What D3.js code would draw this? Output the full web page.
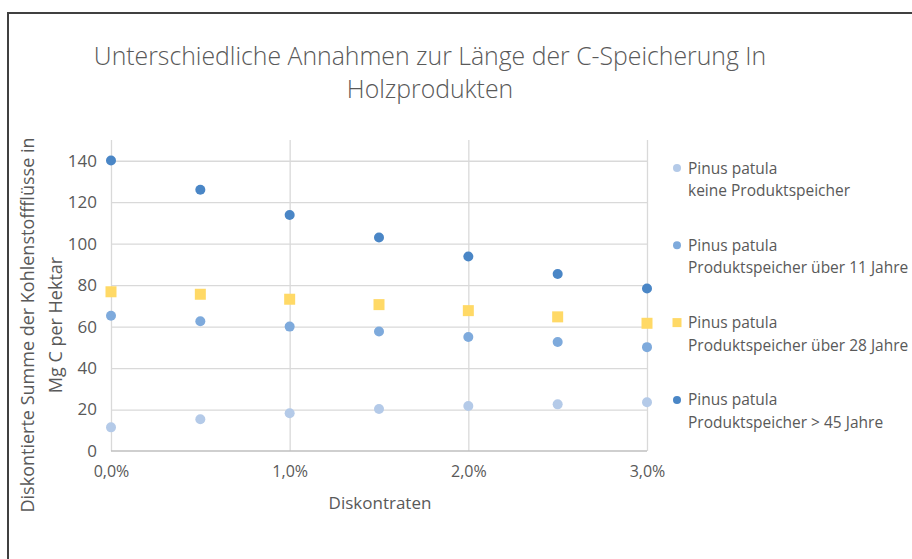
<!DOCTYPE html>
<html>
<head>
<meta charset="utf-8">
<script src="https://cdn.jsdelivr.net/npm/d3@7"></script>
<style>
    body { margin: 0; background: #fff; }
    svg text { font-family: "Open Sans", "Noto Sans", sans-serif; fill: #595959; }
</style>
</head>
<body>
<svg id="chart"></svg>
<script>
// Data
const rates = [0, 0.5, 1, 1.5, 2, 2.5, 3];          // Diskontrate in %
const keineSpeicher = [11.4, 15.3, 18.2, 20.3, 21.7, 22.5, 23.5];
const speicher11 = [65.2, 62.6, 60.0, 57.6, 55.0, 52.6, 50.1];
const speicher28 = [76.8, 75.6, 73.2, 70.6, 67.7, 64.7, 61.6];
const speicher45 = [140.1, 126.0, 113.8, 103.0, 93.8, 85.4, 78.4];
const seriesNames = [
    ["Pinus patula", "keine Produktspeicher"],
    ["Pinus patula", "Produktspeicher über 11 Jahre"],
    ["Pinus patula", "Produktspeicher über 28 Jahre"],
    ["Pinus patula", "Produktspeicher > 45 Jahre"]
];
const yTicks = [0, 20, 40, 60, 80, 100, 120, 140];
const xTicks = [0, 1, 2, 3];

let config = {
    svg: { width: 912, height: 559 },
    plot: { left: 111, right: 647, top: 140, bottom: 451 }
};

let series = [
    { name: seriesNames[0], values: keineSpeicher, color: "#b4cae8", shape: "circle" },
    { name: seriesNames[1], values: speicher11, color: "#7eaadc", shape: "circle" },
    { name: seriesNames[2], values: speicher28, color: "#ffd966", shape: "square" },
    { name: seriesNames[3], values: speicher45, color: "#4a86c6", shape: "circle" }
];

let svg = d3.select("#chart")
    .attr("width", config.svg.width)
    .attr("height", config.svg.height);

// chart frame (only top and left edge visible in the picture)
svg.append("rect")
    .attr("x", 8)
    .attr("y", 13)
    .attr("width", 920)
    .attr("height", 560)
    .attr("fill", "none")
    .attr("stroke", "#404040")
    .attr("stroke-width", 2);

// Scales
let x = d3.scaleLinear().domain([0, 3]).range([config.plot.left, config.plot.right]);
let y = d3.scaleLinear().domain([0, 150]).range([config.plot.bottom, config.plot.top]);

// Gridlines
let grid = svg.append("g").attr("class", "gridlines");
grid.append("g")
    .attr("transform", translate(0, config.plot.bottom))
    .call(d3.axisBottom(x).tickValues(xTicks).tickFormat("")
        .tickSize(-(config.plot.bottom - config.plot.top)).tickSizeOuter(0))
    .call(g => g.select(".domain").remove())
    .call(g => g.selectAll("line").attr("stroke", "#d9d9d9").attr("stroke-width", 1.3));
grid.append("g")
    .attr("transform", translate(config.plot.left, 0))
    .call(d3.axisLeft(y).tickValues(yTicks.slice(1)).tickFormat("")
        .tickSize(-(config.plot.right - config.plot.left)).tickSizeOuter(0))
    .call(g => g.select(".domain").remove())
    .call(g => g.selectAll("line").attr("stroke", "#d9d9d9").attr("stroke-width", 1.3));

// x axis line
svg.append("line")
    .attr("x1", config.plot.left).attr("x2", config.plot.right)
    .attr("y1", y(0)).attr("y2", y(0))
    .attr("stroke", "#bfbfbf").attr("stroke-width", 1.3);

// Tick labels
let yAxis = svg.append("g")
    .attr("transform", translate(config.plot.left, 0))
    .call(d3.axisLeft(y).tickValues(yTicks).tickSize(0).tickPadding(14));
yAxis.select(".domain").remove();
yAxis.selectAll("text").attr("font-size", 17).attr("fill", "#595959");

let xAxis = svg.append("g")
    .attr("transform", translate(0, config.plot.bottom))
    .call(d3.axisBottom(x).tickValues(xTicks).tickSize(0).tickPadding(15)
        .tickFormat(d => d.toFixed(1).replace(".", ",") + "%"));
xAxis.select(".domain").remove();
xAxis.selectAll("text").attr("font-size", 16).attr("fill", "#595959");

// Points
let points = svg.append("g").attr("id", "points");
for (let s of series) {
    let g = points.append("g");
    let data = rates.map((r, i) => ({ rate: r, value: s.values[i] }));
    if (s.shape === "circle") {
        g.selectAll("circle")
            .data(data)
            .enter()
            .append("circle")
            .attr("cx", d => x(d.rate))
            .attr("cy", d => y(d.value))
            .attr("r", 5)
            .attr("fill", s.color);
    } else {
        g.selectAll("rect")
            .data(data)
            .enter()
            .append("rect")
            .attr("x", d => x(d.rate) - 5.5)
            .attr("y", d => y(d.value) - 5.5)
            .attr("width", 11)
            .attr("height", 11)
            .attr("fill", s.color);
    }
}

// Title
let title = svg.append("text")
    .attr("x", 430)
    .attr("y", 65)
    .attr("text-anchor", "middle")
    .attr("font-size", 24.8)
    .attr("font-weight", 300);
title.append("tspan").attr("x", 430).text("Unterschiedliche Annahmen zur Länge der C-Speicherung In");
title.append("tspan").attr("x", 430).attr("dy", 33).text("Holzprodukten");

// Axis titles
svg.append("text")
    .attr("x", 380)
    .attr("y", 509)
    .attr("text-anchor", "middle")
    .attr("font-size", 17)
    .text("Diskontraten");

let yTitle = svg.append("text")
    .attr("transform", "translate(34,325) rotate(-90)")
    .attr("text-anchor", "middle")
    .attr("font-size", 18);
yTitle.append("tspan").attr("x", 0).attr("y", 0).text("Diskontierte Summe der Kohlenstoffflüsse in");
yTitle.append("tspan").attr("x", 0).attr("dy", 28).text("Mg C per Hektar");

// Legend
let legend = svg.append("g").attr("id", "legend");
series.forEach(function(s, i) {
    let row = legend.append("g").attr("transform", translate(677, 168 + i * 77.3));
    if (s.shape === "circle") {
        row.append("circle").attr("r", 4).attr("fill", s.color);
    } else {
        row.append("rect").attr("x", -4.5).attr("y", -4.5).attr("width", 9).attr("height", 9).attr("fill", s.color);
    }
    let t = row.append("text")
        .attr("x", 11)
        .attr("y", 5.5)
        .attr("font-size", 15.5);
    t.append("tspan").attr("x", 11).text(s.name[0]);
    t.append("tspan").attr("x", 11).attr("dy", 22.5).text(s.name[1]);
});

function translate(x, y) {
    return 'translate(' + x + ',' + y + ')';
}
</script>
</body>
</html>
